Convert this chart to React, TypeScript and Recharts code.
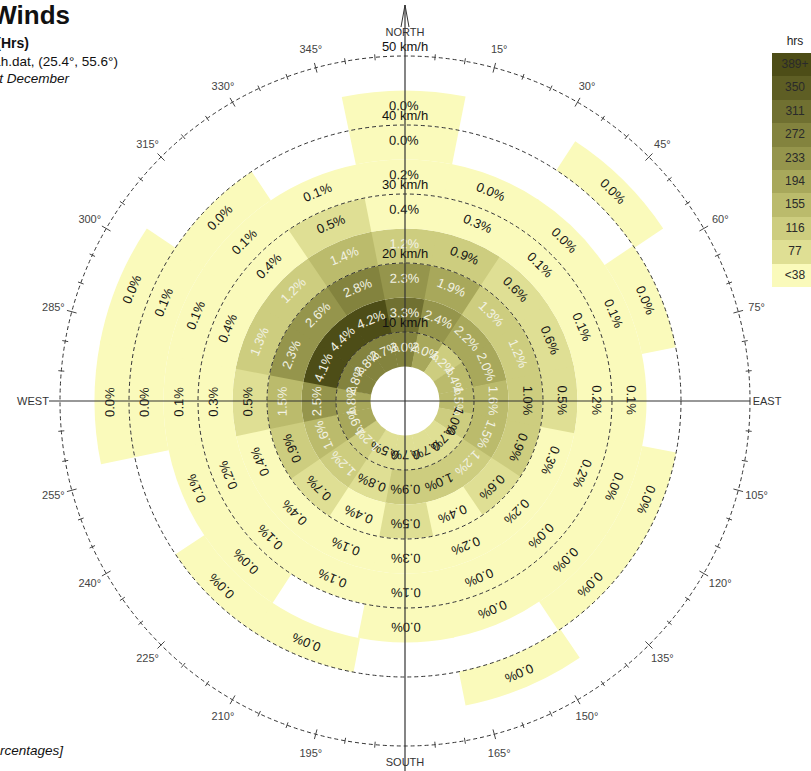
import React from "react";
import {
  RadialBarChart,
  RadialBar,
  PolarAngleAxis,
  PolarRadiusAxis,
  PolarGrid,
  Cell,
  LabelList,
} from "recharts";

// wind directions, clockwise from north
const directions = ["N", "NNE", "NE", "ENE", "E", "ESE", "SE", "SSE", "S", "SSW", "SW", "WSW", "W", "WNW", "NW", "NNW"];

// speed bins (km/h): calm hole 0-5, then 5 km/h steps
const calmSpeed = 5;
const binWidth = 5;

// % of hours per direction, null = no hours recorded
const pct5to10 = [3.0, 2.0, 1.2, 1.4, 1.5, 1.0, 0.7, 0.7, 0.7, 0.5, 1.2, 1.9, 1.8, 2.8, 2.8, 2.7];
const pct10to15 = [3.3, 2.4, 2.2, 2.0, 1.6, 1.5, 1.2, 1.0, 0.9, 0.8, 1.2, 1.6, 2.5, 4.1, 4.4, 4.2];
const pct15to20 = [2.3, 1.9, 1.3, 1.2, 1.0, 0.9, 0.6, 0.4, 0.5, 0.4, 0.7, 0.9, 1.5, 2.3, 2.6, 2.8];
const pct20to25 = [1.2, 0.9, 0.6, 0.6, 0.5, 0.3, 0.2, 0.2, 0.3, 0.1, 0.4, 0.4, 0.5, 1.3, 1.2, 1.4];
const pct25to30 = [0.4, 0.3, 0.1, 0.1, 0.2, 0.2, 0.0, 0.0, 0.1, 0.1, 0.1, 0.2, 0.3, 0.4, 0.4, 0.5];
const pct30to35 = [0.2, 0.0, 0.0, 0.1, 0.1, 0.0, 0.0, 0.0, 0.0, null, 0.0, 0.1, 0.1, 0.1, 0.1, 0.1];
const pct35to40 = [0.0, null, null, 0.0, null, 0.0, 0.0, null, null, 0.0, 0.0, null, 0.0, 0.1, 0.0, null];
const pct40to45 = [0.0, null, 0.0, null, null, null, null, 0.0, null, null, null, null, 0.0, 0.0, null, null];

const speedTicks = [10, 20, 30, 40, 50];
const degreeTicks = Array.from({ length: 72 }, (_, i) => i * 5);

const hoursInYear = 8760;
const legendLabels = ["389+", "350", "311", "272", "233", "194", "155", "116", "77", "<38"];
const legendColors = ["#4d4d17", "#5e5e24", "#707031", "#83833e", "#95954c", "#a8a85b", "#bbbb6c", "#cdcd7f", "#dfdf94", "#fafabb"];
const hourStep = 38.9;

const bands = [pct5to10, pct10to15, pct15to20, pct20to25, pct25to30, pct30to35, pct35to40, pct40to45];

const rows = directions.map((dir, i) => {
  const row: any = { dir, calm: calmSpeed };
  bands.forEach((b, k) => {
    row[`s${k}`] = binWidth;
    row[`p${k}`] = b[i];
  });
  return row;
});

const CX = 405;
const CY = 401;
const OUTER = 345;
const FONT = "'Liberation Sans', Arial, sans-serif";

function cellColor(pct: number) {
  const hrs = (pct / 100) * hoursInYear;
  const level = Math.min(9, Math.floor(hrs / hourStep));
  return legendColors[9 - level];
}

function renderCellLabel(props: any) {
  const { viewBox, value } = props;
  if (value == null || !viewBox) return null;
  const { cx, cy, innerRadius, outerRadius, startAngle, endAngle } = viewBox;
  const mid = (startAngle + endAngle) / 2;
  const r = (innerRadius + outerRadius) / 2 + 2;
  const rad = (mid * Math.PI) / 180;
  const x = cx + r * Math.cos(rad);
  const y = cy - r * Math.sin(rad);
  return (
    <text
      x={x}
      y={y}
      transform={`rotate(${90 - mid} ${x} ${y})`}
      textAnchor="middle"
      dominantBaseline="central"
      fontSize={13}
      fontFamily={FONT}
      fill={value > 1.05 ? "#f2f2e4" : "#141414"}
    >
      {`${Number(value).toFixed(1)}%`}
    </text>
  );
}

const cardinal: Record<number, { name: string; reach: number; label: number }> = {
  0: { name: "NORTH", reach: 396, label: 369 },
  90: { name: "EAST", reach: 345, label: 362 },
  180: { name: "SOUTH", reach: 372, label: 361 },
  270: { name: "WEST", reach: 356, label: 372 },
};

function renderDegreeTick(props: any) {
  const { payload } = props;
  const cx = props.cx ?? CX;
  const cy = props.cy ?? CY;
  const radius = props.radius ?? OUTER;
  const a = (payload.coordinate * Math.PI) / 180;
  const pt = (r: number) => [cx + r * Math.cos(a), cy - r * Math.sin(a)];
  const deg = payload.value % 360;
  const major = deg % 15 === 0;
  const card = cardinal[deg];
  if (card) {
    const [ex, ey] = pt(card.reach);
    const [tx, ty] = pt(card.label);
    return (
      <g>
        <line x1={cx} y1={cy} x2={ex} y2={ey} stroke="#333" strokeWidth={1.2} />
        {deg === 0 && (
          <path d={`M${ex - 4},${ey + 22} L${ex},${ey} L${ex + 4},${ey + 22}`} fill="none" stroke="#333" strokeWidth={1} />
        )}
        <text x={tx} y={ty} textAnchor="middle" dominantBaseline="central" fontSize={11} fontFamily={FONT} fill="#333">
          {card.name}
        </text>
      </g>
    );
  }
  const [x1, y1] = pt(radius - (major ? 5 : 3));
  const [x2, y2] = pt(radius + (major ? 5 : 3));
  const [lx, ly] = pt(364);
  return (
    <g>
      <line x1={x1} y1={y1} x2={x2} y2={y2} stroke="#444" strokeWidth={1} />
      {major && (
        <text x={lx} y={ly} textAnchor="middle" dominantBaseline="central" fontSize={11} fontFamily={FONT} fill="#444">
          {`${deg}°`}
        </text>
      )}
    </g>
  );
}

function renderSpeedTick(props: any) {
  const { x, y, payload } = props;
  return (
    <text x={x} y={y - 10} textAnchor="middle" dominantBaseline="central" fontSize={13} fontFamily={FONT} fill="#111">
      {`${payload.value} km/h`}
    </text>
  );
}

const clipText = (right: number, top: number, style: any, text: string) => (
  <div
    style={{
      position: "absolute",
      right: 811 - right,
      top,
      whiteSpace: "nowrap",
      fontFamily: FONT,
      color: "#111",
      ...style,
    }}
  >
    {text}
  </div>
);

export default function App() {
  return (
    <div style={{ position: "absolute", left: 0, top: 0, width: 811, height: 771, overflow: "hidden", background: "#fff" }}>
      <div style={{ position: "absolute", left: 0, top: 0 }}>
        <RadialBarChart
          width={811}
          height={771}
          cx={CX}
          cy={CY}
          innerRadius={0}
          outerRadius={OUTER}
          startAngle={78.75}
          endAngle={-281.25}
          data={rows}
          layout="centric"
          barCategoryGap={0}
          barGap={0}
          margin={{ top: 0, right: 0, bottom: 0, left: 0 }}
        >
          <PolarAngleAxis dataKey="dir" type="category" tick={false} axisLine={false} tickLine={false} />
          <PolarRadiusAxis type="number" domain={[0, 50]} ticks={speedTicks} tick={renderSpeedTick} axisLine={false} tickLine={false} angle={90} />
          <RadialBar dataKey="calm" stackId="w" fill="transparent" isAnimationActive={false} />
          {bands.map((b, k) => (
            <RadialBar key={k} dataKey={`s${k}`} stackId="w" isAnimationActive={false}>
              {b.map((v, i) => (
                <Cell key={i} fill={v == null ? "transparent" : cellColor(v)} />
              ))}
              <LabelList dataKey={`p${k}`} content={renderCellLabel} />
            </RadialBar>
          ))}
          <PolarGrid gridType="circle" radialLines={false} stroke="#333" strokeDasharray="4 3" zIndex={600} />
        </RadialBarChart>
      </div>

      {/* compass ring: a numeric angle axis in degrees, clockwise from north */}
      <div style={{ position: "absolute", left: 0, top: 0, pointerEvents: "none" }}>
        <RadialBarChart
          width={811}
          height={771}
          cx={CX}
          cy={CY}
          innerRadius={0}
          outerRadius={OUTER}
          startAngle={90}
          endAngle={-270}
          data={[{ v: 0 }]}
          margin={{ top: 0, right: 0, bottom: 0, left: 0 }}
        >
          <PolarAngleAxis type="number" domain={[0, 360]} ticks={degreeTicks} tick={renderDegreeTick} axisLine={false} tickLine={false} />
          <PolarRadiusAxis type="category" tick={false} axisLine={false} tickLine={false} />
          <RadialBar dataKey="v" fill="transparent" isAnimationActive={false} />
        </RadialBarChart>
      </div>

      {clipText(70, 0, { fontSize: 26, fontWeight: "bold" }, "Prevailing Winds")}
      {clipText(29, 35, { fontSize: 14, fontWeight: "bold" }, "Wind Frequency (Hrs)")}
      {clipText(118, 54, { fontSize: 13.5 }, "Location: Sharjah.dat, (25.4°, 55.6°)")}
      {clipText(69, 71, { fontSize: 13.5, fontStyle: "italic" }, "Date: 1st January - 31st December")}
      {clipText(63, 743, { fontSize: 13.5, fontStyle: "italic" }, "[Percentages]")}

      <div style={{ position: "absolute", left: 772, top: 34, width: 46, textAlign: "center", fontFamily: FONT, fontSize: 12, color: "#222" }}>
        hrs
      </div>
      <div style={{ position: "absolute", left: 772, top: 53, width: 46 }}>
        {legendLabels.map((l, i) => (
          <div
            key={l}
            style={{
              height: 23.4,
              lineHeight: "23.4px",
              background: legendColors[i],
              textAlign: "center",
              fontFamily: FONT,
              fontSize: 12,
              color: "#2a2a2a",
            }}
          >
            {l}
          </div>
        ))}
      </div>
    </div>
  );
}
